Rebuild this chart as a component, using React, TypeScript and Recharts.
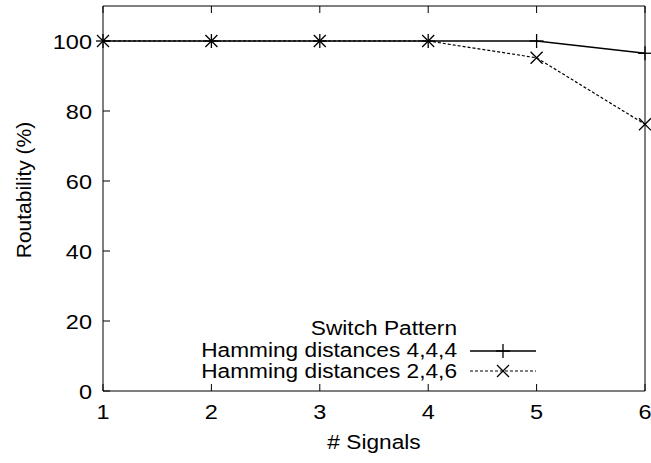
import React from "react";
import { LineChart, Line, XAxis, YAxis } from "recharts";

// # signals on the x axis
const signals = [1, 2, 3, 4, 5, 6];
// routability (%) per switch pattern
const hamming444 = [100, 100, 100, 100, 100, 96.5];
const hamming246 = [100, 100, 100, 100, 95.2, 76.2];
const yTicks = [0, 20, 40, 60, 80, 100];

const data = signals.map((s, i) => ({ signals: s, h444: hamming444[i], h246: hamming246[i] }));

const FONT = "'Liberation Sans', Arial, sans-serif";
const FS = 21;
const TICK = 7;

// the reference type is a bit wider than Liberation Sans, so stretch it sideways
const SText = ({ x, y, anchor, sx = 1.08, children }: any) => (
  <text
    transform={`translate(${x} ${y}) scale(${sx} 1)`}
    textAnchor={anchor}
    fontFamily={FONT}
    fontSize={FS}
    fill="#000"
  >
    {children}
  </text>
);

const PlusDot = (props: any) => {
  const { cx, cy } = props;
  if (cx == null || cy == null) return null;
  return (
    <g>
      <line x1={cx - 7} y1={cy} x2={cx + 7} y2={cy} stroke="#000" strokeWidth={1.3} />
      <line x1={cx} y1={cy - 7} x2={cx} y2={cy + 7} stroke="#000" strokeWidth={1.3} />
    </g>
  );
};

const CrossDot = (props: any) => {
  const { cx, cy } = props;
  if (cx == null || cy == null) return null;
  return (
    <g>
      <line x1={cx - 6} y1={cy - 6} x2={cx + 6} y2={cy + 6} stroke="#000" strokeWidth={1.3} />
      <line x1={cx - 6} y1={cy + 6} x2={cx + 6} y2={cy - 6} stroke="#000" strokeWidth={1.3} />
    </g>
  );
};

const LeftTick = (props: any) => {
  const { x, y, payload } = props;
  return (
    <g>
      <line x1={x} y1={y} x2={x + TICK} y2={y} stroke="#000" strokeWidth={1} />
      <SText x={x - 11} y={y + 7.5} anchor="end" sx={1.12}>{payload.value}</SText>
    </g>
  );
};

const RightTick = (props: any) => {
  const { x, y } = props;
  return <line x1={x} y1={y} x2={x - TICK} y2={y} stroke="#000" strokeWidth={1} />;
};

const BottomTick = (props: any) => {
  const { x, y, payload } = props;
  return (
    <g>
      <line x1={x} y1={y} x2={x} y2={y - TICK} stroke="#000" strokeWidth={1} />
      <SText x={x} y={y + 28} anchor="middle" sx={1.12}>{payload.value}</SText>
    </g>
  );
};

const TopTick = (props: any) => {
  const { x, y } = props;
  return <line x1={x} y1={y} x2={x} y2={y + TICK} stroke="#000" strokeWidth={1} />;
};

// axis titles and the key, laid over the chart
const Overlay = () => (
  <svg width={651} height={463} style={{ position: "absolute", left: 0, top: 0, pointerEvents: "none" }}>
    <SText x={374} y={449} anchor="middle"># Signals</SText>
    <text x={31} y={190} textAnchor="middle" transform="rotate(-90 31 190)" fontFamily={FONT} fontSize={FS} fill="#000">
      Routability (%)
    </text>
    <SText x={457} y={335} anchor="end">Switch Pattern</SText>
    <SText x={457} y={357} anchor="end">Hamming distances 4,4,4</SText>
    <SText x={457} y={378} anchor="end">Hamming distances 2,4,6</SText>
    <line x1={470} y1={351} x2={536} y2={351} stroke="#000" strokeWidth={1.5} />
    <PlusDot cx={503} cy={351} />
    <line x1={470} y1={371} x2={536} y2={371} stroke="#000" strokeWidth={1.2} strokeDasharray="3 2" />
    <CrossDot cx={503} cy={371} />
  </svg>
);

export default function App() {
  return (
    <div style={{ position: "absolute", left: 0, top: 0, width: 651, height: 463, background: "#fff" }}>
      <LineChart width={651} height={463} data={data} margin={{ top: 0, right: 0, bottom: 0, left: 0 }}>
        <XAxis
          xAxisId="b"
          dataKey="signals"
          type="number"
          domain={[1, 6]}
          ticks={signals}
          height={72}
          tickSize={0}
          tickMargin={0}
          tickLine={false}
          axisLine={{ stroke: "#000" }}
          tick={<BottomTick />}
          interval={0}
        />
        <XAxis
          xAxisId="t"
          orientation="top"
          dataKey="signals"
          type="number"
          domain={[1, 6]}
          ticks={signals}
          height={6}
          tickSize={0}
          tickMargin={0}
          tickLine={false}
          axisLine={{ stroke: "#000" }}
          tick={<TopTick />}
          interval={0}
        />
        <YAxis
          yAxisId="l"
          domain={[0, 110]}
          ticks={yTicks}
          width={103}
          tickSize={0}
          tickMargin={0}
          tickLine={false}
          axisLine={{ stroke: "#000" }}
          tick={<LeftTick />}
          interval={0}
        />
        <YAxis
          yAxisId="r"
          orientation="right"
          domain={[0, 110]}
          ticks={yTicks}
          width={6}
          tickSize={0}
          tickMargin={0}
          tickLine={false}
          axisLine={{ stroke: "#000" }}
          tick={<RightTick />}
          interval={0}
        />
        <Line
          xAxisId="b"
          yAxisId="l"
          dataKey="h444"
          stroke="#000"
          strokeWidth={1.5}
          dot={(p: any) => <PlusDot key={`p${p.index}`} {...p} />}
          isAnimationActive={false}
        />
        <Line
          xAxisId="b"
          yAxisId="l"
          dataKey="h246"
          stroke="#000"
          strokeWidth={1.2}
          strokeDasharray="3 2"
          dot={(p: any) => <CrossDot key={`c${p.index}`} {...p} />}
          isAnimationActive={false}
        />
      </LineChart>
      <Overlay />
    </div>
  );
}
